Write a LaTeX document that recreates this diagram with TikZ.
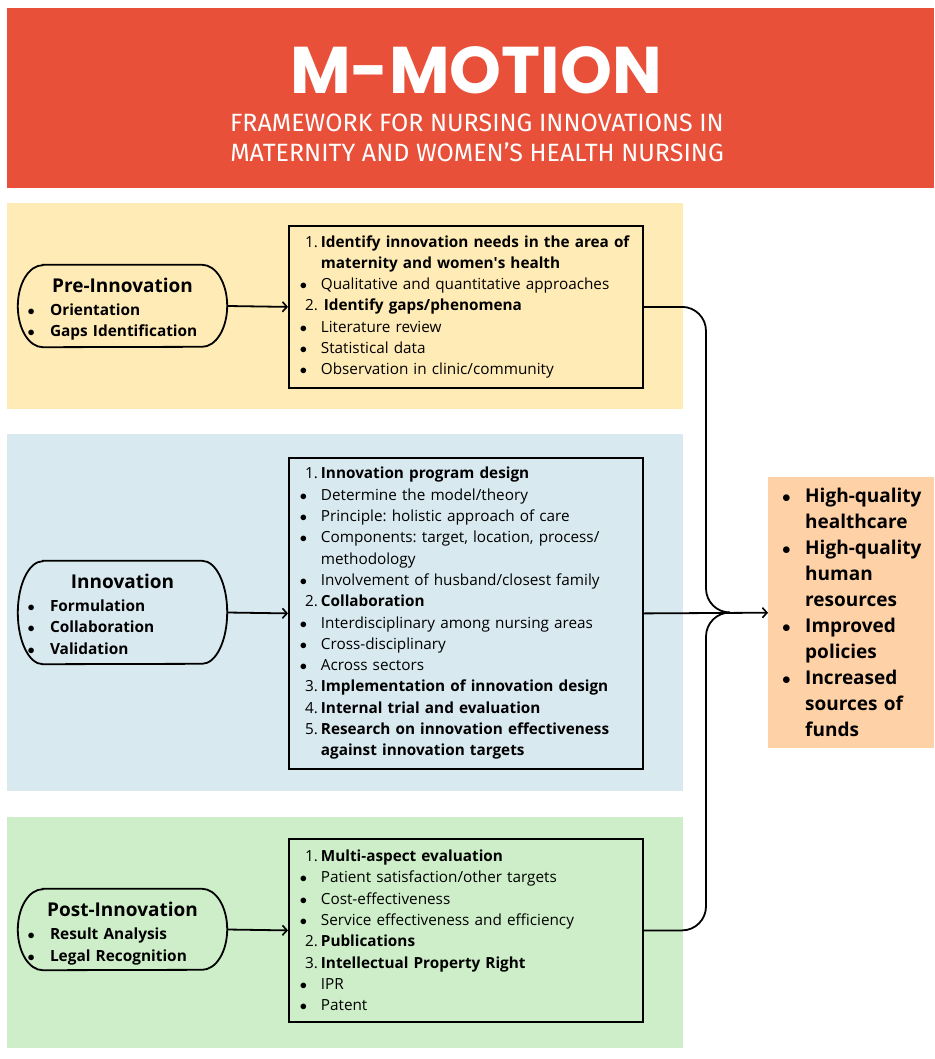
\documentclass[tikz,border=0pt]{standalone}
\usepackage{fontspec}
\setmainfont{Open Sans}
\newfontfamily\titlefont{Poppins}
\newfontfamily\subfont{Fira Sans}
\usetikzlibrary{arrows.meta}
\definecolor{titlered}{HTML}{E8503A}
\definecolor{bandyellow}{HTML}{FFEBB5}
\definecolor{bandblue}{HTML}{D9E9F0}
\definecolor{bandgreen}{HTML}{CDEEC8}
\definecolor{outorange}{HTML}{FFD1A6}
\frenchspacing
\newcommand\dotmark{$\bullet$}
\newcommand\bul[1]{\hspace*{11pt}\makebox[21pt][l]{\dotmark}#1}
\newcommand\num[2]{\makebox[29pt][r]{#1}\hspace{3pt}\textbf{#2}}
\newcommand\cont[1]{\hspace*{32pt}\textbf{#1}}
\newcommand\sbul[1]{\makebox[22.5pt][l]{\dotmark}\textbf{#1}}
\newcommand\stitle[2]{\rule{0pt}{#2}\makebox[190pt][c]{\fontsize{19}{21}\selectfont\bfseries #1}}
\newcommand\obul[1]{\makebox[28pt][l]{\hspace{5pt}\dotmark}#1}
\newcommand\ocont[1]{\hspace*{28pt}#1}
\begin{document}
\begin{tikzpicture}[x=1pt,y=-1pt,
  listbox/.style={draw, line width=1.8pt, anchor=north west, text width=354pt,
    inner xsep=0pt, inner ysep=0pt, align=left,
    font=\fontsize{15.3}{21.3}\selectfont},
  stagetext/.style={minimum width=209pt, text width=190pt, inner xsep=9.5pt,
    inner ysep=0pt, align=left, font=\fontsize{15.4}{21.5}\selectfont},
  stageborder/.style={line width=1.8pt},
  arr/.style={line width=1.8pt, -{Straight Barb[length=4.5pt,width=10pt,line width=1.6pt]}},
  conn/.style={line width=1.8pt, rounded corners=24pt}]
\useasboundingbox (0,0) rectangle (934,1059);
\fill[white] (0,0) rectangle (934,1059);
% title
\fill[titlered] (7,8) rectangle (934,188);
\node[text=white, font=\titlefont\bfseries\fontsize{66}{70}\selectfont, inner sep=0pt] (title) at (476,70) {M-MOTION};
\node[text=white, font=\subfont\fontsize{25}{30}\selectfont, align=center, inner sep=0pt] (subtitle) at (477,138)
  {FRAMEWORK FOR NURSING INNOVATIONS IN\\MATERNITY AND WOMEN’S HEALTH NURSING};
% bands
\fill[bandyellow] (7,203) rectangle (683,409);
\fill[bandblue] (7,434) rectangle (683,791);
\fill[bandgreen] (7,817) rectangle (683,1048);
% stage nodes
\node[stagetext, minimum height=82pt] (pre) at (122.5,306)
  {\stitle{Pre-Innovation}{21pt}\\[1.5pt]\sbul{Orientation}\\\sbul{Gaps Identification}};
\node[stagetext, minimum height=103pt] (inn) at (122.5,612.5)
  {\stitle{Innovation}{18pt}\\[1.5pt]\sbul{Formulation}\\\sbul{Collaboration}\\\sbul{Validation}};
\node[stagetext, minimum height=81pt] (post) at (122.5,929.5)
  {\stitle{Post-Innovation}{23pt}\\[1.5pt]\sbul{Result Analysis}\\\sbul{Legal Recognition}};
\foreach \n/\h in {pre/41,inn/51.5,post/40.5}{
  \draw[stageborder] ([xshift=25pt]\n.north west) -- ([xshift=-25pt]\n.north east)
    arc[start angle=-90,end angle=90,x radius=25,y radius=\h]
    -- ([xshift=25pt]\n.south west)
    arc[start angle=90,end angle=270,x radius=25,y radius=\h] -- cycle;
}
% list boxes
\node[listbox, minimum height=162pt] (b1) at (288,225) {%
\num{1.}{Identify innovation needs in the area of}\\
\cont{maternity and women\textquotesingle s health}\\
\bul{Qualitative and quantitative approaches}\\
\makebox[29pt][r]{2.}\hspace{6pt}\textbf{Identify gaps/phenomena}\\
\bul{Literature review}\\
\bul{Statistical data}\\
\bul{Observation in clinic/community}};
\node[listbox, minimum height=311pt] (b2) at (288,457) {%
\num{1.}{Innovation program design}\\
\bul{Determine the model/theory}\\
\bul{Principle: holistic approach of care}\\
\bul{Components: target, location, process/}\\
\hspace*{32pt}methodology\\
\bul{Involvement of husband/closest family}\\
\num{2.}{Collaboration}\\
\bul{Interdisciplinary among nursing areas}\\
\bul{Cross-disciplinary}\\
\bul{Across sectors}\\
\num{3.}{Implementation of innovation design}\\
\num{4.}{Internal trial and evaluation}\\
\num{5.}{Research on innovation effectiveness}\\
\cont{against innovation targets}};
\node[listbox, minimum height=183pt] (b3) at (288,838) {%
\num{1.}{Multi-aspect evaluation}\\
\bul{Patient satisfaction/other targets}\\
\bul{Cost-effectiveness}\\
\bul{Service effectiveness and efficiency}\\
\num{2.}{Publications}\\
\num{3.}{Intellectual Property Right}\\
\bul{IPR}\\
\bul{Patent}};
% outcome box
\node[fill=outorange, anchor=north west, minimum height=271pt, text width=148pt,
  inner xsep=9pt, inner ysep=0pt, align=left,
  font=\bfseries\fontsize{19}{26}\selectfont] (out) at (768,477) {%
\obul{High-quality}\\
\ocont{healthcare}\\
\obul{High-quality}\\
\ocont{human}\\
\ocont{resources}\\
\obul{Improved}\\
\ocont{policies}\\
\obul{Increased}\\
\ocont{sources of}\\
\ocont{funds}};
% connectors
\draw[arr] (pre.east) -- (b1.west);
\draw[arr] (inn.east) -- (b2.west);
\draw[arr] (post.east) -- (b3.west);
\coordinate (bend) at (706,612.5);
\coordinate (merge) at (730,612.5);
\draw[conn] (b1.east) -| (bend) -- (merge);
\draw[conn] (b3.east) -| (bend) -- (merge);
\draw[arr] (b2.east) -- (out.west);
\end{tikzpicture}
\end{document}
